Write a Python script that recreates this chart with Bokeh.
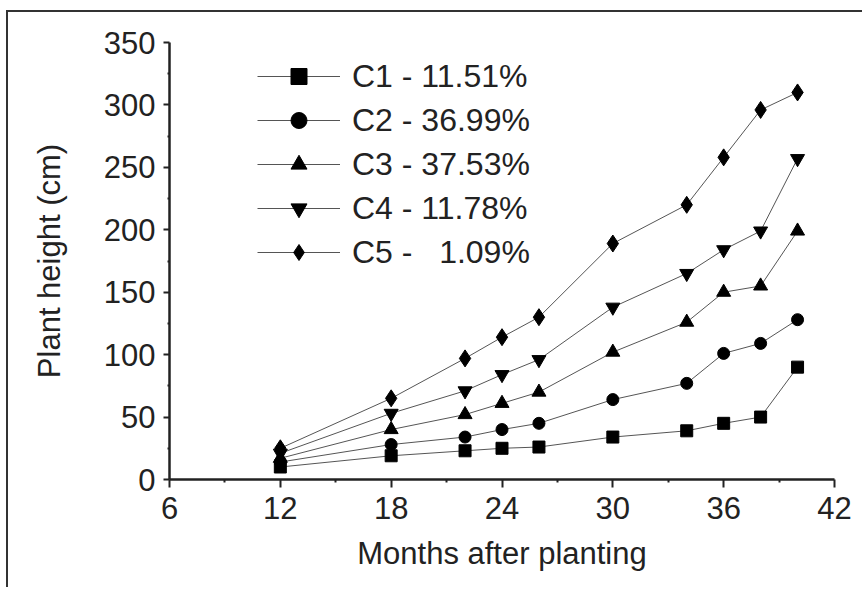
from bokeh.plotting import figure
from bokeh.models import Range1d, FixedTicker, Legend, LegendItem
from bokeh.embed import file_html
from bokeh.resources import INLINE

months = [12, 18, 22, 24, 26, 30, 34, 36, 38, 40]
c1 = [10, 19, 23, 25, 26, 34, 39, 45, 50, 90]
c2 = [14, 28, 34, 40, 45, 64, 77, 101, 109, 128]
c3 = [17, 40, 52, 61, 70, 102, 126, 150, 155, 199]
c4 = [21, 53, 71, 84, 96, 138, 165, 184, 199, 257]
c5 = [25, 65, 97, 114, 130, 189, 220, 258, 296, 310]
series = [c1, c2, c3, c4, c5]
labels = ["C1 - 11.51%", "C2 - 36.99%", "C3 - 37.53%", "C4 - 11.78%", "C5 - \u00a0\u00a01.09%"]
markers = ["square", "circle", "triangle", "inverted_triangle", "diamond"]
marker_sizes = [12, 12, 14, 14, 17]
x_ticks = [6, 12, 18, 24, 30, 36, 42]
y_ticks = [0, 50, 100, 150, 200, 250, 300, 350]

FONT = "Liberation Sans"

p = figure(width=856, height=577, output_backend="svg", toolbar_location=None,
           x_range=Range1d(6, 42), y_range=Range1d(0, 350),
           min_border_left=161, min_border_right=30, min_border_top=30, min_border_bottom=110)
p.styles = {"border-top": "2px solid #333", "border-left": "2px solid #333",
            "margin-left": "6px", "margin-top": "10px"}
p.outline_line_color = None
p.grid.visible = False
p.background_fill_color = "white"
p.border_fill_color = "white"

items = []
for ys, lab, mk, ms in zip(series, labels, markers, marker_sizes):
    r1 = p.line(months, ys, line_color="#555555", line_width=1)
    r2 = p.scatter(months, ys, marker=mk, size=ms, fill_color="black", line_color="black")
    items.append(LegendItem(label=lab, renderers=[r1, r2]))

legend = Legend(items=items, location=(88, 207), border_line_color=None,
                background_fill_alpha=0, padding=0, margin=0, spacing=4,
                glyph_width=83, glyph_height=40, label_height=40, label_standoff=12,
                label_text_font=FONT, label_text_font_size="32px", label_text_color="#222222")
p.add_layout(legend)

for ax in (p.xaxis[0], p.yaxis[0]):
    ax.axis_line_width = 2.5
    ax.axis_line_color = "#222222"
    ax.major_tick_line_color = "#222222"
    ax.major_tick_line_width = 2
    ax.minor_tick_line_color = "#222222"
    ax.minor_tick_line_width = 2
    ax.major_tick_in = 0
    ax.minor_tick_in = 0
    ax.major_label_text_font = FONT
    ax.major_label_text_font_size = "31px"
    ax.major_label_text_color = "#222222"
    ax.axis_label_text_font = FONT
    ax.axis_label_text_font_size = "31px"
    ax.axis_label_text_font_style = "normal"
    ax.axis_label_text_color = "#222222"

p.xaxis.ticker = FixedTicker(ticks=x_ticks, minor_ticks=[9, 15, 21, 27, 33, 39])
p.yaxis.ticker = FixedTicker(ticks=y_ticks, minor_ticks=[25, 75, 125, 175, 225, 275, 325])
p.xaxis.major_tick_out = 8
p.xaxis.minor_tick_out = 3
p.yaxis.major_tick_out = 6
p.yaxis.minor_tick_out = 2
p.xaxis.major_label_standoff = 9
p.yaxis.major_label_standoff = 8
p.xaxis.axis_label = "Months after planting"
p.yaxis.axis_label = "Plant height (cm)"
p.xaxis.axis_label_standoff = 14
p.yaxis.axis_label_standoff = 34

open("out.html", "w").write(file_html(p, INLINE))
